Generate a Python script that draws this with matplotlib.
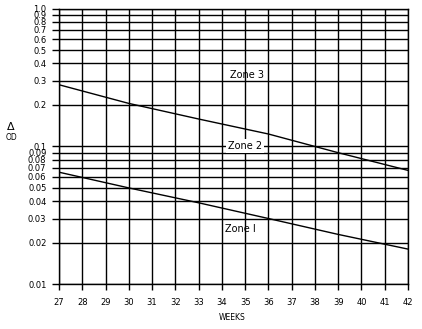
import matplotlib
matplotlib.use("Agg")
import matplotlib.pyplot as plt
from matplotlib.ticker import NullLocator, FixedLocator, FixedFormatter

# Data
weeks = [27, 30, 33, 36, 39, 42]
zone_upper = [0.28, 0.205, 0.158, 0.123, 0.090, 0.067]   # Zone 2 / Zone 3 boundary
zone_lower = [0.065, 0.050, 0.039, 0.030, 0.023, 0.018]  # Zone 1 / Zone 2 boundary

x_ticks = list(range(27, 43))
y_ticks = [0.01, 0.02, 0.03, 0.04, 0.05, 0.06, 0.07, 0.08, 0.09,
           0.1, 0.2, 0.3, 0.4, 0.5, 0.6, 0.7, 0.8, 0.9, 1.0]
y_labels = ["0.01", "0.02", "0.03", "0.04", "0.05", "0.06", "0.07", "0.08", "0.09",
            "0.1", "0.2", "0.3", "0.4", "0.5", "0.6", "0.7", "0.8", "0.9", "1.0"]

fig = plt.figure(figsize=(4.22, 3.29), dpi=100)
ax = fig.add_axes([59/422, 1-284.3/329, (408-59)/422, (284.3-8.5)/329])

ax.set_yscale("log")
ax.set_xlim(27, 42)
ax.set_ylim(0.01, 1.0)

ax.xaxis.set_major_locator(FixedLocator(x_ticks))
ax.yaxis.set_major_locator(FixedLocator(y_ticks))
ax.yaxis.set_major_formatter(FixedFormatter(y_labels))
ax.yaxis.set_minor_locator(NullLocator())
ax.xaxis.set_minor_locator(NullLocator())

ax.grid(True, which="major", color="black", linewidth=1.0)
for s in ax.spines.values():
    s.set_color("black")
    s.set_linewidth(1.0)

ax.tick_params(axis="y", direction="out", length=5, width=1.0, pad=4, labelsize=6)
ax.tick_params(axis="x", direction="out", length=4, width=1.0, pad=6, labelsize=6)

ax.plot(weeks, zone_upper, color="black", linewidth=1.0)
ax.plot(weeks, zone_lower, color="black", linewidth=1.0)

ax.text(35.1, 0.302, "Zone 3", fontsize=7, ha="center", va="bottom")
ax.text(35.0, 0.1, "Zone 2", fontsize=7, ha="center", va="center",
        bbox=dict(facecolor="white", edgecolor="none", pad=1.5))
ax.text(34.8, 0.0253, "Zone I", fontsize=7, ha="center", va="center")

fig.text(11/422, 1-127/329, "Δ", fontsize=8, ha="center", va="center")
fig.text(11/422, 1-138/329, "OD", fontsize=5.5, ha="center", va="center")
fig.text(232/422, 1-318/329, "WEEKS", fontsize=5.5, ha="center", va="center")

fig.savefig("out.png", dpi=100)
